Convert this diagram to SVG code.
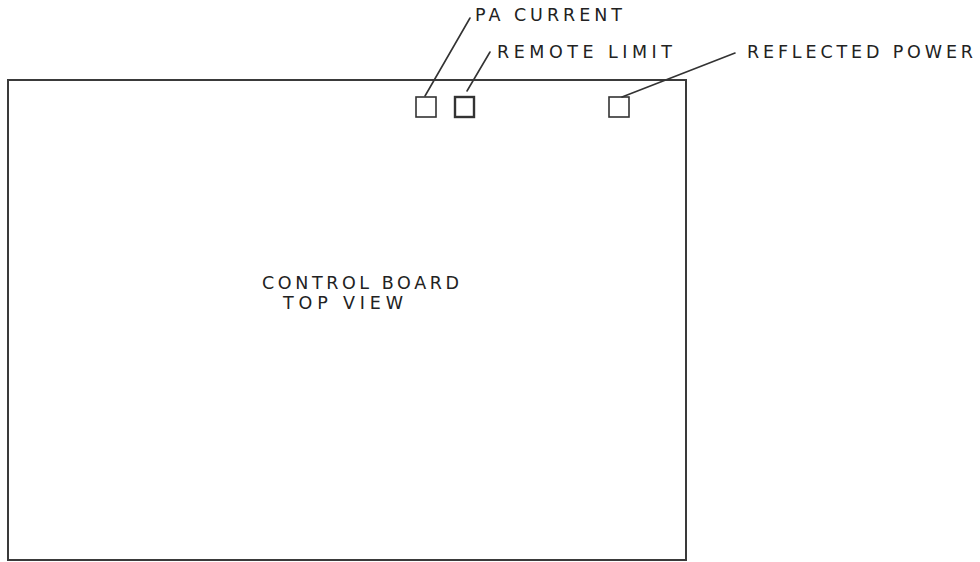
<svg xmlns="http://www.w3.org/2000/svg" width="980" height="562" viewBox="0 0 980 562">
<style>
.ln{fill:none;stroke:#333;stroke-width:1.6;stroke-linecap:round}
.bd{fill:none;stroke:#3a3a3a;stroke-width:2}
.t{font-family:"DejaVu Sans","Liberation Sans",sans-serif;font-size:17.5px;fill:#222}
</style>
<rect width="980" height="562" fill="#fff"/>
<g id="board">
<rect class="bd" x="8" y="80" width="678" height="480"/>
<text class="t" x="262" y="289" textLength="197" lengthAdjust="spacing">CONTROL BOARD</text>
<text class="t" x="283" y="309" textLength="120" lengthAdjust="spacing">TOP VIEW</text>
</g>
<g id="pa-current">
<rect class="ln" x="416" y="97" width="20" height="20"/>
<text class="t" x="475" y="21" textLength="147" lengthAdjust="spacing">PA CURRENT</text>
</g>
<g id="remote-limit">
<rect class="ln" x="455" y="97" width="19" height="20" style="stroke-width:2.4"/>
<text class="t" x="497" y="58" textLength="175" lengthAdjust="spacing">REMOTE LIMIT</text>
</g>
<g id="reflected-power">
<rect class="ln" x="609" y="97" width="20" height="20"/>
<text class="t" x="747" y="58" textLength="226" lengthAdjust="spacing">REFLECTED POWER</text>
</g>
<g id="connectors">
<line class="ln" x1="425" y1="96" x2="470" y2="18"/>
<line class="ln" x1="467" y1="91" x2="490" y2="52"/>
<line class="ln" x1="622" y1="97" x2="735" y2="53"/>
</g>
</svg>
